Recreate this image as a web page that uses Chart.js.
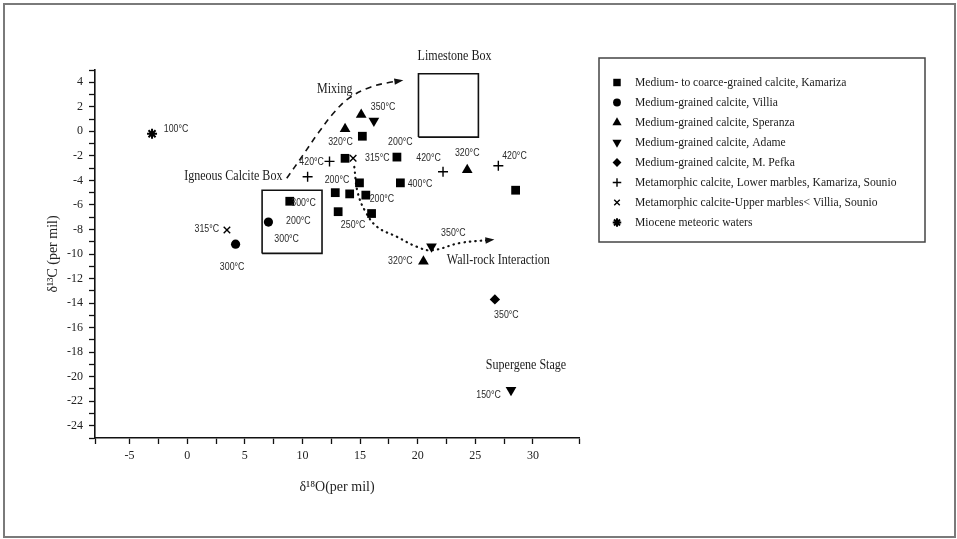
<!DOCTYPE html>
<html><head><meta charset="utf-8">
<script src="https://cdn.jsdelivr.net/npm/chart.js@4/dist/chart.umd.min.js"></script>
<style>html,body{margin:0;padding:0;background:#fff;}#wrap{width:957px;height:539px;position:relative}canvas{display:block}</style>
</head><body><div id="wrap"><canvas id="c" width="957" height="539"></canvas></div>
<script>
// ---------- DATA ----------
const seriesNames = [
  'Medium- to coarce-grained calcite, Kamariza',
  'Medium-grained calcite, Villia',
  'Medium-grained calcite, Speranza',
  'Medium-grained calcite, Adame',
  'Medium-grained calcite, M. Pefka',
  'Metamorphic calcite, Lower marbles, Kamariza, Sounio',
  'Metamorphic calcite-Upper marbles< Villia, Sounio',
  'Miocene meteoric waters'
];
const kamarizaO = [15.2, 13.7, 18.2, 14.95, 18.5, 12.85, 14.1, 15.5, 13.1, 16.0, 28.5, 8.9];
const kamarizaC = [-0.4, -2.2, -2.1, -4.2, -4.2, -5.0, -5.1, -5.2, -6.55, -6.7, -4.8, -5.7];
const villiaO = [7.05, 4.2];
const villiaC = [-7.4, -9.2];
const speranzaO = [13.7, 15.1, 24.3, 20.5];
const speranzaC = [0.2, 1.35, -3.15, -10.6];
const adameO = [16.2, 21.2, 28.1];
const adameC = [0.85, -9.4, -21.1];
const pefkaO = [26.7];
const pefkaC = [-13.7];
const lowerMarblesO = [12.35, 10.45, 22.2, 27.0];
const lowerMarblesC = [-2.45, -3.7, -3.3, -2.8];
const upperMarblesO = [3.45, 14.4];
const upperMarblesC = [-8.05, -2.2];
const mioceneO = [-3.05];
const mioceneC = [-0.2];

const limestoneBoxO = [20.07, 25.27, 25.27, 20.07, 20.07];
const limestoneBoxC = [-0.47, -0.47, 4.69, 4.69, -0.47];
const igneousBoxO = [6.5, 11.7, 11.7, 6.5, 6.5];
const igneousBoxC = [-9.95, -9.95, -4.8, -4.8, -9.95];
const mixingO = [8.64, 10.0, 11.4, 12.8, 14.1, 15.9, 17.6, 18.5];
const mixingC = [-3.83, -2.0, -0.1, 1.6, 2.75, 3.6, 4.0, 4.12];
const wallRockO = [14.5, 14.8, 15.5, 16.5, 18.2, 19.9, 21.2, 23.7, 26.4];
const wallRockC = [-2.9, -5.0, -6.6, -7.8, -8.6, -9.4, -9.7, -9.1, -8.85];

const tempText = ['100°C','420°C','200°C','300°C','200°C','300°C','315°C','300°C','350°C','320°C','200°C',
  '315°C','420°C','320°C','420°C','400°C','200°C','250°C','350°C','320°C','350°C','150°C'];
const tempO = [-0.97, 10.8, 13.0, 10.1, 9.65, 8.63, 1.7, 3.9, 17.0, 13.3, 18.5,
  16.5, 20.95, 24.3, 28.4, 20.2, 16.9, 14.4, 23.1, 18.5, 27.7, 26.15];
const tempC = [0.16, -2.48, -3.95, -5.9, -7.3, -8.78, -8.0, -11.1, 2.0, -0.9, -0.85,
  -2.2, -2.2, -1.8, -2.0, -4.3, -5.55, -7.65, -8.3, -10.6, -15.0, -21.5];

const noteText = ['Limestone Box', 'Mixing', 'Igneous Calcite Box', 'Wall-rock Interaction', 'Supergene Stage'];
const noteO = [23.2, 12.8, 4.0, 27.0, 29.4];
const noteC = [6.15, 3.45, -3.7, -10.55, -19.05];

const xTitle = 'δ¹⁸O(per mil)';
const yTitle = 'δ¹³C (per mil)';

// ---------- BUILD ----------
const SERIF = '"Liberation Serif","DejaVu Serif",serif';
const SANS = '"Liberation Sans","DejaVu Sans",sans-serif';
const pts = (xs, ys) => xs.map((x, i) => ({x, y: ys[i]}));

const markerDefs = [
  {o: kamarizaO, c: kamarizaC, style: 'rect', r: 6.2, bw: 0},
  {o: villiaO, c: villiaC, style: 'circle', r: 4.6, bw: 0},
  {o: speranzaO, c: speranzaC, style: 'triangle', r: 6.2, bw: 0},
  {o: adameO, c: adameC, style: 'triangle', r: 6.2, bw: 0, rot: 180},
  {o: pefkaO, c: pefkaC, style: 'rectRot', r: 5.2, bw: 0},
  {o: lowerMarblesO, c: lowerMarblesC, style: 'cross', r: 5, bw: 1.4},
  {o: upperMarblesO, c: upperMarblesC, style: 'crossRot', r: 4.6, bw: 1.4},
  {o: mioceneO, c: mioceneC, style: 'star', r: 5, bw: 2}
];

const datasets = markerDefs.map((m, i) => ({
  label: seriesNames[i],
  data: pts(m.o, m.c),
  pointStyle: m.style,
  pointRadius: m.r,
  pointHoverRadius: m.r,
  pointRotation: m.rot || 0,
  pointBackgroundColor: '#000',
  pointBorderColor: '#000',
  pointBorderWidth: m.bw,
  showLine: false,
  isMarker: true
}));

function lineSet(xs, ys, opts) {
  return Object.assign({
    data: pts(xs, ys), showLine: true, pointRadius: 0, pointHoverRadius: 0,
    borderColor: '#111', backgroundColor: '#111', borderWidth: 1.5, fill: false, tension: 0
  }, opts);
}
datasets.push(lineSet(limestoneBoxO, limestoneBoxC, {borderWidth: 1.6}));
datasets.push(lineSet(igneousBoxO, igneousBoxC, {borderWidth: 1.6}));
datasets.push(lineSet(mixingO, mixingC, {borderDash: [6, 5], borderWidth: 1.6, tension: 0.4, arrow: true}));
datasets.push(lineSet(wallRockO, wallRockC, {borderDash: [0.5, 5], borderCapStyle: 'round', borderWidth: 2.2, tension: 0.4, arrow: true}));

function condText(ctx, txt, x, y, sx) {
  ctx.save(); ctx.translate(x, y); ctx.scale(sx, 1); ctx.fillText(txt, 0, 0); ctx.restore();
}

const decor = {
  id: 'decor',
  beforeDraw(chart) {
    const ctx = chart.ctx;
    ctx.save(); ctx.fillStyle = '#fff'; ctx.fillRect(0, 0, chart.width, chart.height); ctx.restore();
  },
  afterDatasetsDraw(chart) {
    const ctx = chart.ctx, xs = chart.scales.x, ys = chart.scales.y;
    chart.data.datasets.forEach(ds => {
      if (!ds.arrow) return;
      const n = ds.data.length;
      const a = ds.data[n - 2], b = ds.data[n - 1];
      const x1 = xs.getPixelForValue(a.x), y1 = ys.getPixelForValue(a.y);
      const x2 = xs.getPixelForValue(b.x), y2 = ys.getPixelForValue(b.y);
      const ang = Math.atan2(y2 - y1, x2 - x1);
      ctx.save(); ctx.translate(x2, y2); ctx.rotate(ang);
      ctx.fillStyle = '#111'; ctx.beginPath();
      ctx.moveTo(3, 0); ctx.lineTo(-6, -3.2); ctx.lineTo(-6, 3.2); ctx.closePath(); ctx.fill();
      ctx.restore();
    });
  },
  afterDraw(chart) {
    const ctx = chart.ctx, xs = chart.scales.x, ys = chart.scales.y;
    ctx.save();
    ctx.fillStyle = '#2a2a2a'; ctx.textAlign = 'center'; ctx.textBaseline = 'middle';
    ctx.font = '10px ' + SANS;
    tempText.forEach((t, i) => condText(ctx, t, xs.getPixelForValue(tempO[i]), ys.getPixelForValue(tempC[i]), 0.88));
    ctx.fillStyle = '#1a1a1a';
    ctx.font = '14px ' + SERIF;
    noteText.forEach((t, i) => condText(ctx, t, xs.getPixelForValue(noteO[i]), ys.getPixelForValue(noteC[i]), 0.86));
    // legend box
    const L = 599, T = 58, R = 925, B = 242;
    ctx.strokeStyle = '#444'; ctx.lineWidth = 1.5;
    ctx.strokeRect(L, T, R - L, B - T);
    ctx.textAlign = 'left'; ctx.font = '12.5px ' + SERIF;
    let k = 0;
    chart.data.datasets.forEach(ds => {
      if (!ds.isMarker) return;
      const y = 82.5 + k * 20;
      ctx.fillStyle = '#000'; ctx.strokeStyle = '#000';
      ctx.lineWidth = ds.pointBorderWidth || 1;
      const opts = {pointStyle: ds.pointStyle, rotation: ds.pointRotation, radius: ds.pointRadius * 0.85, borderWidth: ds.pointBorderWidth};
      if (Chart.helpers && Chart.helpers.drawPoint) {
        Chart.helpers.drawPoint(ctx, opts, 617, y);
      }
      ctx.fillStyle = '#1a1a1a';
      condText(ctx, ds.label, 635, y, 0.93);
      k++;
    });
    ctx.strokeStyle = '#7a7a7a'; ctx.lineWidth = 2;
    ctx.strokeRect(4, 4, 951, 533);
    ctx.restore();
  }
};

new Chart(document.getElementById('c'), {
  type: 'scatter',
  data: {datasets},
  plugins: [decor],
  options: {
    responsive: false, animation: false, devicePixelRatio: 1,
    layout: {padding: {left: 0, top: 70, right: 378, bottom: 0}},
    plugins: {legend: {display: false}, tooltip: {enabled: false}},
    scales: {
      x: {
        type: 'linear', position: 'bottom', min: -8, max: 34,
        afterFit: s => { s.height = 101; },
        border: {display: true, color: '#111', width: 1.6},
        grid: {display: true, drawOnChartArea: false, drawTicks: true, tickLength: 6, tickColor: '#111', tickWidth: 1.3},
        ticks: {stepSize: 2.5, autoSkip: false, maxRotation: 0, padding: 5, color: '#222',
          font: {family: SERIF, size: 12},
          callback: v => (Math.abs(v % 5) < 1e-9 ? String(v) : '')},
        title: {display: true, text: xTitle, color: '#222', font: {family: SERIF, size: 14}, padding: {top: 0, bottom: 43}}
      },
      y: {
        type: 'linear', position: 'left', min: -25, max: 5,
        afterFit: s => { s.width = 95; },
        border: {display: true, color: '#111', width: 1.6},
        grid: {display: true, drawOnChartArea: false, drawTicks: true, tickLength: 6, tickColor: '#111', tickWidth: 1.3},
        ticks: {stepSize: 1, autoSkip: false, padding: 6, color: '#222',
          font: {family: SERIF, size: 12},
          callback: v => (Math.abs(v % 2) < 1e-9 && v !== -25 ? String(v) : '')},
        title: {display: true, text: yTitle, color: '#222', font: {family: SERIF, size: 14}, padding: {top: 45, bottom: 0}}
      }
    }
  }
});
</script>
</body></html>
